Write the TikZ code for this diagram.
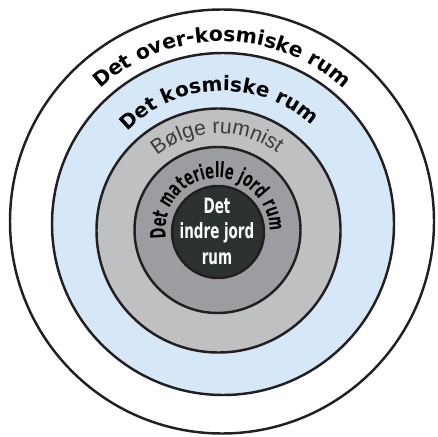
\documentclass[tikz,border=0pt]{standalone}
\usepackage{fontspec}
\usepackage{tikz}
\usetikzlibrary{calc, decorations.text}
\definecolor{RumBlue}{RGB}{214,231,247}
\definecolor{RumGray}{RGB}{191,192,194}
\definecolor{RumDark}{RGB}{156,157,161}
\definecolor{RumCore}{RGB}{44,49,49}
\definecolor{RumLine}{RGB}{35,31,32}
\definecolor{RumText}{RGB}{60,60,62}
\newfontfamily\arcfont{DejaVu Sans}
\newfontfamily\thinfont{Liberation Sans}
\newfontfamily\condfont{DejaVu Sans}[FakeStretch=0.62]
\newfontfamily\corefont{DejaVu Sans}[FakeStretch=0.64]

\begin{document}
\begin{tikzpicture}[x=0.02cm, y=0.02cm,
	ring/.style={draw=RumLine, line width=1.4pt},
	bue/.style={decorate, decoration={text along path, text align=center,
		text={#1}}}]
	\useasboundingbox (0,0) rectangle (438,436);
	\coordinate (O1) at (222,214.5);
	\coordinate (O2) at (223,212);
	\coordinate (O3) at (218.5,205.5);
	\coordinate (O4) at (217.5,206);
	\coordinate (O5) at (218,204);
	\draw[ring, fill=white]   (O1) circle[radius=212];
	\draw[ring, fill=RumBlue] (O2) circle[radius=171];
	\draw[ring, fill=RumGray] (O3) circle[radius=122];
	\draw[ring, fill=RumDark] (O4) circle[radius=83];
	\draw[ring, fill=RumCore] (O5) circle[radius=46];
	\path[bue={|\arcfont\bfseries\fontsize{11.6}{13}\selectfont|Det over-kosmiske rum}]
		($(O1)+(150:180)$) arc[start angle=150, end angle=30, radius=180];
	\path[bue={|\arcfont\bfseries\fontsize{11.4}{13}\selectfont|Det kosmiske rum}]
		($(O2)+(152:133)$) arc[start angle=152, end angle=32, radius=133];
	\path[bue={|\thinfont\fontsize{12}{14}\selectfont\color{RumText}|Bølge rumnist}]
		($(O3)+(151:97)$) arc[start angle=151, end angle=31, radius=97];
	\path[bue={|\condfont\bfseries\fontsize{12}{13}\selectfont|Det materielle jord rum}]
		($(O4)+(210:52)$) arc[start angle=210, end angle=-22, radius=52];
	\node[text=white, align=center, inner sep=0pt,
		font=\corefont\bfseries\fontsize{12}{14.5}\selectfont] (core) at (217,205)
		{Det\\indre jord\\rum};
\end{tikzpicture}
\end{document}
